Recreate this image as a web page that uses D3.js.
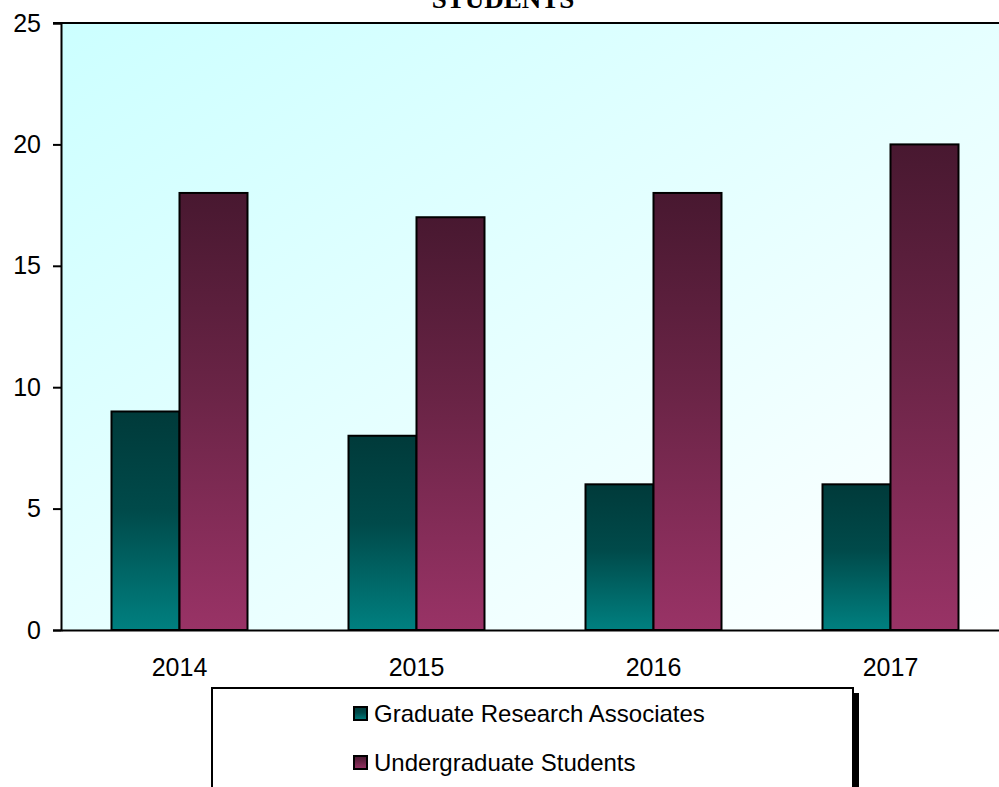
<!DOCTYPE html>
<html>
<head>
<meta charset="utf-8">
<script src="https://cdn.jsdelivr.net/npm/d3@7"></script>
<style>
  html, body { margin: 0; padding: 0; background: #ffffff; overflow: hidden; }
  svg { display: block; }
  text { font-family: "Liberation Sans", Arial, sans-serif; fill: #000; }
</style>
</head>
<body>
<svg id="chart" width="999" height="787"></svg>
<script>
// Student counts per year
const years = ["2014", "2015", "2016", "2017"];
const seriesNames = ["Graduate Research Associates", "Undergraduate Students"];
const graduateResearchAssociates = [9, 8, 6, 6];
const undergraduateStudents = [18, 17, 18, 20];
const yTicks = [0, 5, 10, 15, 20, 25];
const titleText = "STUDENTS";

const seriesValues = [graduateResearchAssociates, undergraduateStudents];
const rows = years.map((y, i) => ({ year: y, values: seriesValues.map(s => s[i]) }));

const svg = d3.select("#chart");
const W = 999, H = 787;
const plot = { left: 61, right: 1009, top: 23, bottom: 630 };
const axisFont = 25;

const defs = svg.append("defs");

// Plot-area wash: pale cyan in the top-left fading to near white
const bg = defs.append("linearGradient").attr("id", "plotBg")
  .attr("x1", "0").attr("y1", "0").attr("x2", "1").attr("y2", "1");
bg.append("stop").attr("offset", "0%").attr("stop-color", "#ccffff");
bg.append("stop").attr("offset", "100%").attr("stop-color", "#ffffff");

// Bar fills: dark at the top, full colour at the base
const barColours = [
  { id: "gradTeal", top: "#003a3a", mid: "#004a4a", bottom: "#008080" },
  { id: "gradMaroon", top: "#481830", mid: "#6a2446", bottom: "#993366" }
];
barColours.forEach(c => {
  const g = defs.append("linearGradient").attr("id", c.id)
    .attr("x1", "0").attr("y1", "0").attr("x2", "0").attr("y2", "1");
  g.append("stop").attr("offset", "0%").attr("stop-color", c.top);
  g.append("stop").attr("offset", "45%").attr("stop-color", c.mid);
  g.append("stop").attr("offset", "100%").attr("stop-color", c.bottom);
});

const x0 = d3.scaleBand().domain(years).range([plot.left, plot.right]).paddingInner(0).paddingOuter(0);
const groupWidth = 136;
const x1 = d3.scaleBand().domain(d3.range(seriesNames.length)).range([0, groupWidth]).padding(0);
const y = d3.scaleLinear().domain([0, 25]).range([plot.bottom, plot.top]);

// Background of the plot area
svg.append("rect")
  .attr("x", plot.left).attr("y", plot.top)
  .attr("width", plot.right - plot.left).attr("height", plot.bottom - plot.top)
  .attr("fill", "url(#plotBg)");

// Bars
const groups = svg.append("g").selectAll("g").data(rows).join("g")
  .attr("transform", d => `translate(${x0(d.year) + (x0.bandwidth() - groupWidth) / 2},0)`);
groups.selectAll("rect").data(d => d.values.map((v, i) => ({ v, i }))).join("rect")
  .attr("x", d => x1(d.i))
  .attr("y", d => y(d.v))
  .attr("width", x1.bandwidth())
  .attr("height", d => y(0) - y(d.v))
  .attr("fill", d => `url(#${barColours[d.i].id})`)
  .attr("stroke", "#000").attr("stroke-width", 2);

// Top frame line of the plot area
svg.append("line")
  .attr("x1", plot.left - 8).attr("x2", W + 20)
  .attr("y1", plot.top).attr("y2", plot.top)
  .attr("stroke", "#000").attr("stroke-width", 2);

// Y axis
const yAxis = d3.axisLeft(y).tickValues(yTicks).tickSize(8).tickPadding(12).tickFormat(d3.format("d"));
const yg = svg.append("g").attr("transform", `translate(${plot.left},0)`).call(yAxis);
yg.select(".domain").attr("stroke", "#000").attr("stroke-width", 2);
yg.selectAll(".tick line").attr("stroke", "#000").attr("stroke-width", 2);
yg.selectAll(".tick text").attr("font-size", axisFont).attr("font-family", "Liberation Sans, Arial, sans-serif").attr("fill", "#000");

// X axis
const xAxis = d3.axisBottom(x0).tickSize(0).tickPadding(28);
const xg = svg.append("g").attr("transform", `translate(0,${plot.bottom})`).call(xAxis);
xg.select(".domain").attr("stroke", "#000").attr("stroke-width", 2);
xg.selectAll(".tick text").attr("font-size", axisFont).attr("font-family", "Liberation Sans, Arial, sans-serif").attr("fill", "#000");

// Title (top line runs off the page)
svg.append("text")
  .attr("x", 503).attr("y", 8)
  .attr("text-anchor", "middle")
  .style("font-family", "'Liberation Serif', 'Times New Roman', serif")
  .style("font-weight", "bold")
  .style("font-size", "27px")
  .text(titleText);

// Legend box with drop shadow
const lg = { x: 212, y: 688, w: 641, h: 130 };
svg.append("rect")
  .attr("x", lg.x + 6).attr("y", lg.y + 5).attr("width", lg.w).attr("height", lg.h)
  .attr("fill", "#000");
svg.append("rect")
  .attr("x", lg.x).attr("y", lg.y).attr("width", lg.w).attr("height", lg.h)
  .attr("fill", "#fff").attr("stroke", "#000").attr("stroke-width", 2);

const legendItems = svg.append("g").selectAll("g").data(seriesNames).join("g")
  .attr("transform", (d, i) => `translate(354,${714 + i * 49})`);
legendItems.append("rect")
  .attr("x", 0).attr("y", -7).attr("width", 13).attr("height", 13)
  .attr("fill", (d, i) => `url(#${barColours[i].id})`)
  .attr("stroke", "#000").attr("stroke-width", 2);
legendItems.append("text")
  .attr("x", 20).attr("y", 8)
  .attr("font-size", 24)
  .text(d => d);
</script>
</body>
</html>
